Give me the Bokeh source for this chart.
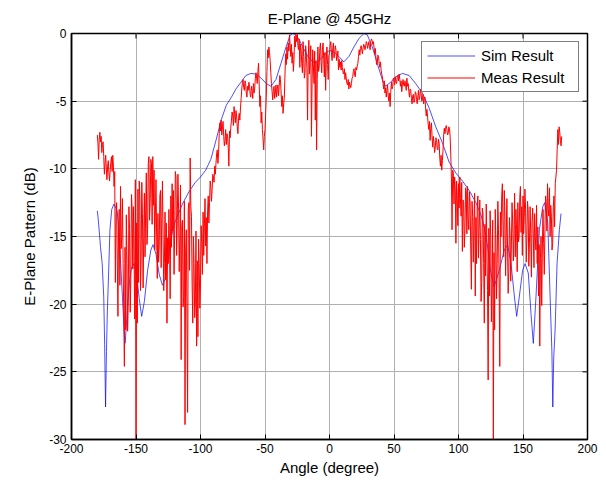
import math
from bokeh.plotting import figure
from bokeh.models import Range1d, FixedTicker, Legend, LegendItem
from bokeh.embed import file_html
from bokeh.resources import INLINE

TITLE = "E-Plane @ 45GHz"
X_LABEL = "Angle (degree)"
Y_LABEL = "E-Plane Pattern (dB)"
X_TICKS = [-200, -150, -100, -50, 0, 50, 100, 150, 200]
Y_TICKS = [-30, -25, -20, -15, -10, -5, 0]

# Simulated pattern (smooth curve)
SIM_ANGLE = [
    -180, -179.5, -178.5, -177.5, -176.2, -175.0, -174.3, -173.6, -172.9, -172.2,
    -171.5, -170.2, -168.8, -167.1, -165.5, -164.5, -163.2, -161.9, -160.5, -159.3,
    -158.5, -157.6, -156.5, -155.0, -153.5, -151.6, -149.5, -147.5, -145.6, -143.5,
    -141.0, -138.5, -136.8, -134.5, -132.0, -129.5, -127.5, -125.0, -122.5, -120.0,
    -118.0, -114.0, -109.0, -104.0, -100.0, -96.0, -92.0, -88.0, -84.0, -80.0,
    -76.0, -72.5, -68.7, -64.8, -61.0, -57.0, -53.0, -49.0, -45.4, -41.5,
    -37.6, -33.7, -30.6, -28.5, -26.0, -23.3, -20.2, -16.8, -13.0, -10.4,
    -6.5, -2.6, 0.0, 2.1, 4.5, 7.3, 11.1, 15.0, 18.9, 22.8,
    26.7, 29.3, 33.2, 37.0, 40.9, 43.5, 47.4, 51.3, 56.5, 61.7,
    66.8, 72.0, 77.2, 82.4, 87.6, 92.7, 97.9, 103.1, 108.3, 113.5,
    117.4, 119.9, 122.5, 125.1, 127.7, 131.6, 135.5, 138.1, 140.7, 143.3,
    145.1, 147.2, 149.7, 151.6, 154.1, 156.2, 158.0, 160.1, 162.7, 165.3,
    166.8, 169.2, 171.0, 172.4, 173.1, 173.8, 174.9, 176.4, 178.2, 179.5,
]
SIM_DB = [
    -13.1, -13.5, -14.6, -15.8, -17.0, -19.5, -23.0, -27.6, -23.5, -20.5,
    -18.5, -14.5, -13.0, -12.6, -12.9, -13.2, -14.8, -17.0, -19.5, -21.8,
    -22.9, -21.8, -20.0, -18.3, -17.3, -17.0, -17.8, -19.6, -20.9, -19.8,
    -17.5, -16.0, -15.6, -16.3, -17.8, -18.6, -18.2, -16.6, -15.0, -14.0,
    -13.5, -12.6, -11.7, -11.0, -10.6, -10.1, -9.3, -7.9, -6.4, -5.3,
    -4.7, -4.1, -3.6, -3.1, -2.95, -3.0, -3.3, -3.7, -3.9, -3.4,
    -2.2, -1.0, -0.15, 0.0, -0.1, -0.5, -1.1, -1.7, -2.1, -2.15,
    -1.85, -1.4, -1.27, -1.3, -1.45, -1.7, -2.1, -1.7, -1.0, -0.37,
    0.0, -0.1, -1.0, -2.2, -3.4, -3.9, -3.6, -3.2, -2.95, -3.1,
    -3.7, -4.4, -5.5, -6.9, -8.1, -9.5, -10.3, -10.9, -11.6, -12.5,
    -13.4, -14.3, -15.7, -17.7, -18.7, -17.5, -16.0, -15.6, -17.0, -19.4,
    -20.9, -19.4, -17.5, -17.0, -17.7, -20.7, -22.9, -19.4, -14.5, -12.8,
    -12.5, -14.0, -19.4, -23.5, -27.6, -24.0, -21.9, -17.0, -14.5, -13.3,
]

# Measured pattern, sampled every 0.5 degree from -180 to 180 (5 degrees per row)
MEAS_ANGLE = [i * 0.5 for i in range(-360, 361)]
MEAS_DB = [
    -7.5, -8.1, -9.3, -7.8, -7.3, -8.0, -7.6, -8.8, -8.2, -8.0,
    -9.1, -10.4, -9.6, -9.0, -10.0, -10.8, -9.8, -9.4, -10.3, -10.9,
    -10.1, -9.5, -9.1, -10.2, -9.0, -9.8, -11.3, -10.2, -18.4, -13.5,
    -12.5, -16.8, -20.9, -14.2, -13.0, -18.6, -11.3, -15.9, -15.0, -12.2,
    -17.0, -20.5, -24.6, -15.8, -21.9, -13.4, -17.0, -22.0, -19.9, -12.8,
    -14.5, -20.6, -18.2, -11.9, -13.0, -17.4, -12.8, -16.2, -21.1, -10.8,
    -30.0, -14.0, -21.4, -11.5, -18.4, -10.9, -12.0, -19.0, -16.5, -11.0,
    -13.3, -18.8, -15.0, -11.8, -16.5, -12.9, -10.3, -15.6, -14.5, -9.6,
    -9.1, -13.8, -12.5, -9.3, -9.6, -14.1, -9.1, -12.7, -10.1, -16.0,
    -13.5, -10.8, -15.0, -18.1, -13.3, -16.9, -15.7, -12.0, -11.6, -17.3,
    -13.5, -10.9, -15.0, -19.0, -17.0, -13.2, -18.2, -14.0, -21.4, -15.1,
    -17.0, -13.0, -15.7, -19.6, -12.0, -15.8, -11.1, -14.6, -11.6, -17.8,
    -14.5, -10.2, -10.6, -16.4, -13.8, -10.4, -13.0, -17.6, -15.0, -11.2,
    -24.1, -14.2, -13.8, -20.2, -19.4, -12.4, -28.9, -16.0, -14.5, -21.0,
    -28.0, -13.0, -12.5, -17.5, -9.2, -12.8, -13.5, -18.6, -21.4, -15.0,
    -17.0, -21.0, -19.9, -14.6, -23.1, -16.8, -22.4, -15.2, -17.0, -20.3,
    -18.5, -14.2, -15.5, -17.8, -13.2, -16.4, -14.3, -12.2, -15.7, -13.6,
    -17.0, -13.1, -12.0, -14.0, -12.5, -10.9, -11.3, -12.4, -11.6, -10.4,
    -10.6, -11.0, -9.8, -10.4, -9.6, -8.9, -8.6, -9.6, -8.9, -7.4,
    -6.6, -7.2, -6.4, -7.5, -6.9, -6.5, -7.6, -8.3, -7.9, -7.1,
    -8.2, -7.4, -7.6, -8.4, -9.8, -7.2, -7.7, -6.9, -6.4, -5.8,
    -6.1, -6.8, -5.4, -6.0, -6.6, -5.7, -6.1, -6.9, -7.4, -6.3,
    -5.9, -6.4, -5.5, -4.8, -4.1, -3.6, -3.4, -4.0, -4.2, -3.5,
    -3.7, -4.4, -4.7, -3.9, -4.2, -3.6, -3.9, -4.5, -4.7, -3.9,
    -4.2, -4.8, -3.7, -4.4, -4.1, -3.3, -2.9, -3.3, -3.7, -2.8,
    -2.2, -3.8, -5.4, -4.6, -6.6, -5.8, -7.1, -7.8, -8.6, -7.6,
    -7.1, -5.9, -4.7, -2.8, -1.2, -1.8, -1.0, -1.4, -2.0, -2.9,
    -3.7, -4.3, -4.9, -4.2, -3.9, -4.8, -4.4, -3.8, -4.7, -4.1,
    -3.8, -4.6, -3.9, -3.1, -3.4, -4.4, -5.4, -4.6, -5.9, -5.2,
    -4.7, -3.0, -1.5, -2.3, -1.0, -1.9, -0.7, -1.3, -0.1, -0.9,
    -1.7, -0.8, -2.2, -1.4, -2.8, -1.9, -0.2, -1.0, -0.1, -0.6,
    0.0, -0.9, -1.2, -0.4, -2.5, -0.8, -1.2, -2.2, -2.9, -0.6,
    -1.7, -3.3, -2.9, -0.9, -1.5, -2.6, -6.4, -1.9, -0.5, -3.0,
    -2.0, -0.9, -7.6, -3.6, -1.2, -2.4, -3.7, -1.3, -6.4, -2.0,
    -8.6, -3.4, -1.0, -2.8, -2.5, -1.1, -0.7, -2.1, -2.9, -1.2,
    -0.7, -1.9, -3.2, -1.4, -4.2, -2.0, -1.0, -2.3, -3.4, -1.6,
    -1.5, -0.9, -0.6, -1.4, -2.0, -1.1, -0.7, -1.8, -1.5, -0.9,
    -1.2, -2.0, -1.7, -1.3, -2.7, -1.9, -2.5, -2.1, -2.7, -2.0,
    -2.5, -2.9, -3.0, -2.6, -3.4, -2.9, -3.3, -3.7, -3.8, -3.4,
    -4.1, -3.6, -3.8, -4.0, -3.7, -3.3, -3.2, -2.8, -2.6, -3.1,
    -3.2, -2.5, -2.7, -2.4, -2.2, -1.7, -1.2, -1.6, -1.1, -0.9,
    -1.2, -1.5, -1.1, -0.8, -0.9, -1.2, -1.0, -0.6, -0.7, -1.1,
    -0.9, -0.6, -0.9, -1.2, -0.6, -0.4, -0.5, -0.8, -0.6, -1.0,
    -1.5, -1.1, -1.8, -2.3, -2.2, -1.6, -1.7, -2.2, -2.5, -2.1,
    -2.7, -3.0, -3.2, -3.7, -4.1, -3.5, -4.4, -4.0, -4.7, -4.2,
    -3.8, -4.6, -5.0, -4.4, -5.4, -4.3, -3.6, -4.1, -3.9, -3.3,
    -3.4, -3.8, -3.2, -3.6, -3.7, -3.2, -3.1, -3.5, -3.0, -3.4,
    -3.9, -3.5, -4.3, -3.8, -3.4, -3.8, -3.9, -3.5, -3.8, -4.2,
    -3.3, -3.9, -3.7, -4.3, -4.7, -4.1, -4.2, -4.8, -5.2, -4.6,
    -4.5, -5.1, -4.9, -4.3, -4.4, -4.9, -5.2, -4.6, -4.2, -4.9,
    -4.7, -4.1, -4.4, -5.0, -4.9, -4.5, -5.2, -4.8, -4.7, -5.5,
    -6.1, -5.6, -6.1, -6.7, -7.1, -6.5, -7.9, -7.0, -6.6, -7.6,
    -8.4, -7.6, -8.1, -8.8, -8.4, -7.7, -7.9, -8.5, -8.6, -7.8,
    -8.1, -9.2, -9.8, -9.0, -10.1, -9.4, -8.6, -7.5, -7.0, -7.4,
    -7.0, -6.8, -7.1, -7.5, -7.4, -6.9, -7.0, -7.6, -8.9, -10.6,
    -14.5, -10.1, -10.3, -12.6, -10.6, -11.4, -15.5, -10.9, -12.0, -14.2,
    -11.1, -12.9, -10.6, -12.2, -13.5, -11.0, -16.1, -12.3, -12.5, -15.8,
    -14.5, -11.4, -11.6, -14.8, -11.3, -13.7, -14.5, -11.7, -12.5, -16.0,
    -18.9, -12.4, -13.5, -16.9, -14.0, -11.8, -19.4, -13.6, -17.0, -12.8,
    -12.0, -16.6, -14.5, -12.3, -15.2, -19.8, -18.4, -12.9, -13.3, -17.0,
    -21.4, -14.1, -17.9, -12.6, -15.5, -19.0, -25.6, -14.4, -19.4, -13.1,
    -15.0, -21.3, -18.4, -13.8, -30.0, -16.2, -21.9, -13.0, -15.5, -19.6,
    -17.0, -12.4, -14.5, -18.5, -24.6, -13.2, -15.0, -12.0, -11.1, -14.3,
    -16.5, -11.6, -13.5, -17.9, -15.0, -12.2, -15.7, -19.2, -17.5, -13.6,
    -15.0, -18.3, -15.7, -12.5, -14.0, -16.8, -15.0, -11.8, -16.5, -13.0,
    -14.5, -17.6, -12.5, -15.4, -15.0, -12.1, -11.3, -14.7, -12.8, -16.4,
    -12.0, -14.8, -13.5, -11.5, -13.0, -16.9, -15.0, -12.4, -13.0, -17.2,
    -15.5, -12.8, -14.8, -18.0, -14.0, -12.9, -15.0, -17.3, -13.3, -15.0,
    -16.0, -12.7, -17.0, -14.3, -19.4, -15.6, -23.1, -16.6, -15.0, -20.1,
    -16.0, -13.0, -15.5, -17.8, -14.5, -12.0, -12.5, -14.6, -11.1, -12.9,
    -13.5, -11.4, -15.0, -12.7, -13.5, -16.0, -15.5, -12.8, -12.0, -14.3,
    -11.1, -10.6, -10.1, -8.6, -7.1, -8.2, -6.9, -7.3, -7.9, -8.3,
    -7.6,
]
assert len(SIM_ANGLE) == len(SIM_DB)
assert len(MEAS_ANGLE) == len(MEAS_DB), (len(MEAS_ANGLE), len(MEAS_DB))

FONT = "Liberation Sans"

p = figure(
    frame_width=516, frame_height=406,
    min_border_left=71, min_border_top=33, min_border_right=14, min_border_bottom=41,
    x_range=Range1d(X_TICKS[0], X_TICKS[-1]), y_range=Range1d(Y_TICKS[0], Y_TICKS[-1]),
    output_backend="svg", toolbar_location=None,
    title=TITLE,
)
p.background_fill_color = "white"
p.border_fill_color = "white"
p.outline_line_color = "black"
p.outline_line_width = 1.5

p.title.align = "center"
p.title.text_font = FONT
p.title.text_font_size = "15px"
p.title.text_font_style = "normal"
p.title.text_color = "black"
p.title.standoff = 14

for ax in (p.xaxis[0], p.yaxis[0]):
    ax.major_tick_in = 5
    ax.major_tick_out = 0
    ax.minor_tick_line_color = None
    ax.axis_line_color = "black"
    ax.axis_line_width = 1.5
    ax.major_tick_line_color = "black"
    ax.major_label_text_font = FONT
    ax.major_label_text_font_size = "12px"
    ax.major_label_text_color = "black"
    ax.axis_label_text_font = FONT
    ax.axis_label_text_font_size = "15px"
    ax.axis_label_text_font_style = "normal"
    ax.axis_label_text_color = "black"

p.xaxis[0].ticker = FixedTicker(ticks=X_TICKS)
p.yaxis[0].ticker = FixedTicker(ticks=Y_TICKS)
# plain hyphen minus signs as in the reference
p.xaxis[0].major_label_overrides = {t: str(t) for t in X_TICKS}
p.yaxis[0].major_label_overrides = {t: str(t) for t in Y_TICKS}
p.xaxis[0].axis_label = X_LABEL
p.yaxis[0].axis_label = Y_LABEL
p.xaxis[0].major_label_standoff = 4
p.xaxis[0].axis_label_standoff = 3
p.yaxis[0].major_label_standoff = 5
p.yaxis[0].axis_label_standoff = 8

p.xgrid.ticker = FixedTicker(ticks=X_TICKS)
p.ygrid.ticker = FixedTicker(ticks=Y_TICKS)
p.grid.grid_line_color = "#b0b0b0"
p.grid.grid_line_width = 1

r_sim = p.line(SIM_ANGLE, SIM_DB, line_color="#0000ff", line_width=0.7)
r_meas = p.line(MEAS_ANGLE, MEAS_DB, line_color="#ff0000", line_width=1)

# inward tick marks on the top and right edges of the box (clipped to the frame)
p.scatter(X_TICKS, [Y_TICKS[-1]] * len(X_TICKS), marker="dash", angle=math.pi / 2,
          size=10, line_color="black", line_width=1)
p.scatter([X_TICKS[-1]] * len(Y_TICKS), Y_TICKS, marker="dash",
          size=10, line_color="black", line_width=1)

legend = Legend(
    items=[LegendItem(label="Sim Result", renderers=[r_sim]),
           LegendItem(label="Meas Result", renderers=[r_meas])],
    location="top_right",
    border_line_color="black", border_line_width=1,
    background_fill_color="white", background_fill_alpha=1,
    label_text_font=FONT, label_text_font_size="15px", label_text_color="black",
    glyph_width=48, glyph_height=17, label_height=17, label_width=92,
    spacing=5, padding=5, margin=8, label_standoff=6,
)
p.add_layout(legend)

open("out.html", "w").write(file_html(p, INLINE))
